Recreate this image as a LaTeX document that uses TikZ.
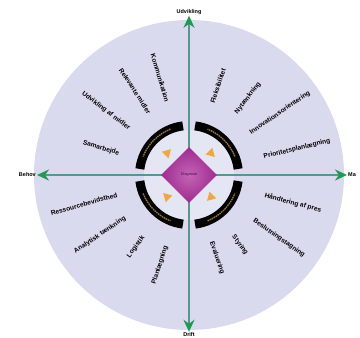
\documentclass[tikz,border=0pt]{standalone}
\usepackage{fontspec}
\setmainfont{Liberation Sans}
\usetikzlibrary{arrows.meta,shapes.geometric}
\definecolor{Lavender}{HTML}{DADAEE}
\definecolor{InnerDisk}{HTML}{E4E6F4}
\definecolor{AxisTeal}{HTML}{5A968E}
\definecolor{AxisGreen}{HTML}{1E9A52}
\definecolor{Plum}{HTML}{B0309E}
\definecolor{Ochre}{HTML}{F2A640}
\definecolor{RingGold}{HTML}{9A7A30}
\tikzset{
    every node/.style={font=\fontsize{6.6}{8}\selectfont\bfseries},
    spoke/.style={inner sep=1pt, text=black},
    axislabel/.style={font=\fontsize{5.5}{6}\selectfont\bfseries, inner sep=1pt},
    axisarrow/.style={
        -{Stealth[length=12pt,width=11pt,color=AxisGreen]},
        line width=2.6pt, color=AxisTeal
    },
    turnmark/.style={
        regular polygon, regular polygon sides=3, fill=Ochre,
        minimum size=11pt, inner sep=0pt
    },
    ringarc/.style={line width=9pt, color=black},
}
\begin{document}
\begin{tikzpicture}[x=1pt,y=1pt]
    \useasboundingbox (-189,-163) rectangle (171,175);

    % Disks and ring
    \fill[Lavender] (0,0) circle (155);
    \fill[InnerDisk] (0,0) circle (45);
    \foreach \a in {0,90,180,270} {
        \draw[ringarc] (\a+7:49.5) arc[start angle=\a+7, end angle=\a+83, radius=49.5];
        \draw[RingGold, line width=1.3pt, dash pattern=on 1.6pt off 0.7pt]
            (\a+22:49.5) arc[start angle=\a+22, end angle=\a+68, radius=49.5];
    }

    % Axis labels
    \coordinate (c) at (0,0);
    \node[axislabel] (udvikling) at (0,163) {Udvikling};
    \node[axislabel] (drift) at (0,-160) {Drift};
    \node[axislabel, anchor=east] (behov) at (-152,0) {Behov};
    \node[axislabel, anchor=west] (marked) at (158,0) {Ma};

    % Axis arrows
    \draw[axisarrow] (c) -- (udvikling);
    \draw[axisarrow] (c) -- (drift);
    \draw[axisarrow] (c) -- (behov);
    \draw[axisarrow] (c) -- (marked);

    % Centre
    \node[diamond, minimum width=56pt, minimum height=56pt, inner sep=0pt,
          shade, inner color=Plum!75!white, outer color=Plum!90!black,
          font=\fontsize{3.8}{4}\selectfont, text=Plum!35!black] (diagnose) at (c) {Diagnose};
    \node[turnmark, rotate=-45] (tri1) at (135:31) {};
    \node[turnmark, rotate=-135] (tri2) at (45:31) {};
    \node[turnmark, rotate=135] (tri3) at (-45:31) {};
    \node[turnmark, rotate=45] (tri4) at (-135:31) {};

    % Spokes, upper left
    \node[spoke, rotate=-73.4] (kommunikation) at (-29,97) {Kommunikation};
    \node[spoke, rotate=-57.3] (relevante) at (-54,84) {Relevante midler};
    \node[spoke, rotate=-37.6] (udvmidler) at (-83,64) {Udvikling af midler};
    \node[spoke, rotate=-17.1] (samarbejde) at (-88,27) {Samarbejde};
    % Spokes, upper right
    \node[spoke, rotate=72] (fleksibilitet) at (29,89) {Fleksibilitet};
    \node[spoke, rotate=52.5] (nytaenkning) at (59,77) {Nytænkning};
    \node[spoke, rotate=34.3] (innovation) at (91,62) {Innovationsorientering};
    \node[spoke, rotate=13.5] (prioritet) at (108,26) {Prioritetsplanlægning};
    % Spokes, lower left
    \node[spoke, rotate=15.4] (ressource) at (-105,-29) {Ressourcebevidsthed};
    \node[spoke, rotate=34] (analytisk) at (-89,-60) {Analytisk tænkning};
    \node[spoke, rotate=53.6] (logistik) at (-53,-72) {Logistik};
    \node[spoke, rotate=72] (planlaegning) at (-29,-90) {Planlægning};
    % Spokes, lower right
    \node[spoke, rotate=-15] (pres) at (104,-28) {Håndtering af pres};
    \node[spoke, rotate=-35] (beslutning) at (90,-63) {Beslutningstagning};
    \node[spoke, rotate=-54] (styring) at (51,-70) {Styring};
    \node[spoke, rotate=-71] (evaluering) at (28,-83) {Evaluering};
\end{tikzpicture}
\end{document}
